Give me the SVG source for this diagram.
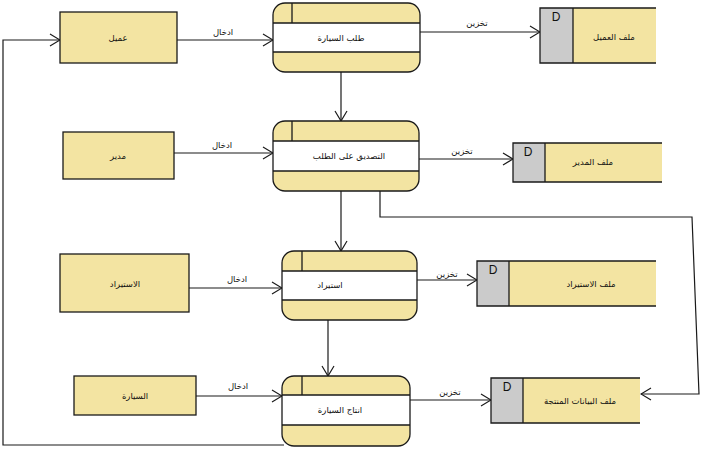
<svg xmlns="http://www.w3.org/2000/svg" width="703" height="449" viewBox="0 0 703 449">
<defs>
<marker id="arr" markerUnits="userSpaceOnUse" markerWidth="12" markerHeight="14" refX="11" refY="7" orient="auto">
<path d="M1,1 L11,7 L1,13" fill="none" stroke="#1a1a1a" stroke-width="1.2"/>
</marker>
<style>
.ent{fill:#f3e4a2;stroke:#1a1a1a;stroke-width:1.3}
.pfill{fill:#f3e4a2;stroke:none}
.pband{fill:#ffffff;stroke:none}
.pout{fill:none;stroke:#1a1a1a;stroke-width:1.3}
.ln{stroke:#1a1a1a;stroke-width:1.3;fill:none}
.sfill{fill:#f3e4a2;stroke:none}
.sd{fill:#cbcbcb;stroke:none}
.t{font-family:"DejaVu Sans",sans-serif;font-size:8.5px;fill:#111;text-anchor:middle}
.d{font-family:"Liberation Sans",Arial,sans-serif;font-size:12px;fill:#111;text-anchor:middle}
.c{stroke:#1a1a1a;stroke-width:1.2;fill:none;marker-end:url(#arr)}
</style>
</defs>
<rect width="703" height="449" fill="#ffffff"/>

<g id="connectors">
<path class="c" d="M177,40 L273,40"/>
<text class="t" x="223" y="35">ادخال</text>
<path class="c" d="M420,32 L540,32"/>
<text class="t" x="477" y="26">تخزين</text>
<path class="c" d="M341,72 L341,121"/>
<path class="c" d="M174,153 L273,153"/>
<text class="t" x="222" y="148">ادخال</text>
<path class="c" d="M419,159 L513,159"/>
<text class="t" x="462" y="154">تخزين</text>
<path class="c" d="M341,191 L341,251"/>
<path class="c" d="M380,191 L380,217 L692,217 L699,394 L641,394"/>
<path class="c" d="M189,288 L282,288"/>
<text class="t" x="237" y="282">ادخال</text>
<path class="c" d="M417,280 L477,280"/>
<text class="t" x="447" y="277">تخزين</text>
<path class="c" d="M328,320 L328,376"/>
<path class="c" d="M196,396 L282,396"/>
<text class="t" x="238" y="389">ادخال</text>
<path class="c" d="M410,400 L491,400"/>
<text class="t" x="450" y="395">تخزين</text>
<path class="c" d="M284,445 L3,445 L3,40 L60,40"/>
</g>

<g id="entity-customer">
<rect class="ent" x="60" y="12" width="117" height="51"/>
<text class="t" x="118" y="41">عميل</text>
</g>
<g id="entity-manager">
<rect class="ent" x="63" y="132" width="111" height="47"/>
<text class="t" x="118" y="159">مدير</text>
</g>
<g id="entity-import">
<rect class="ent" x="60" y="254" width="129" height="58"/>
<text class="t" x="125" y="287">الاستيراد</text>
</g>
<g id="entity-car">
<rect class="ent" x="74" y="376" width="122" height="39"/>
<text class="t" x="135" y="399">السيارة</text>
</g>

<g id="process-car-request">
<rect class="pfill" x="273" y="3" width="147" height="69" rx="12"/>
<rect class="pband" x="273" y="23" width="147" height="29"/>
<path class="ln" d="M273,23 H420 M273,52 H420 M292,3 V23"/>
<rect class="pout" x="273" y="3" width="147" height="69" rx="12"/>
<text class="t" x="341" y="41">طلب السيارة</text>
</g>
<g id="process-approve">
<rect class="pfill" x="273" y="121" width="146" height="70" rx="12"/>
<rect class="pband" x="273" y="141" width="146" height="30"/>
<path class="ln" d="M273,141 H419 M273,171 H419 M292,121 V141"/>
<rect class="pout" x="273" y="121" width="146" height="70" rx="12"/>
<text class="t" x="349" y="159">التصديق على الطلب</text>
</g>
<g id="process-import">
<rect class="pfill" x="282" y="251" width="135" height="69" rx="12"/>
<rect class="pband" x="282" y="271" width="135" height="29"/>
<path class="ln" d="M282,271 H417 M282,300 H417 M302,251 V271"/>
<rect class="pout" x="282" y="251" width="135" height="69" rx="12"/>
<text class="t" x="330" y="288">استيراد</text>
</g>
<g id="process-production">
<rect class="pfill" x="282" y="376" width="128" height="70" rx="12"/>
<rect class="pband" x="282" y="395" width="128" height="30"/>
<path class="ln" d="M282,395 H410 M282,425 H410 M302,376 V395"/>
<rect class="pout" x="282" y="376" width="128" height="70" rx="12"/>
<text class="t" x="340" y="413">انتاج السيارة</text>
</g>

<g id="store-customer">
<rect class="sfill" x="540" y="8" width="116" height="55"/>
<rect class="sd" x="540" y="8" width="33" height="55"/>
<path class="ln" d="M656,8 H540 V63 H656 M573,8 V63"/>
<text class="d" x="556" y="21">D</text>
<text class="t" x="614" y="40">ملف العميل</text>
</g>
<g id="store-manager">
<rect class="sfill" x="513" y="143" width="149" height="39"/>
<rect class="sd" x="513" y="143" width="32" height="39"/>
<path class="ln" d="M662,143 H513 V182 H662 M545,143 V182"/>
<text class="d" x="528" y="156">D</text>
<text class="t" x="593" y="165">ملف المدير</text>
</g>
<g id="store-import">
<rect class="sfill" x="477" y="261" width="179" height="45"/>
<rect class="sd" x="477" y="261" width="32" height="45"/>
<path class="ln" d="M656,261 H477 V306 H656 M509,261 V306"/>
<text class="d" x="493" y="274">D</text>
<text class="t" x="591" y="287">ملف الاستيراد</text>
</g>
<g id="store-products">
<rect class="sfill" x="491" y="378" width="149" height="45"/>
<rect class="sd" x="491" y="378" width="32" height="45"/>
<path class="ln" d="M640,378 H491 V423 H640 M523,378 V423"/>
<text class="d" x="507" y="391">D</text>
<text class="t" x="580" y="404">ملف البيانات المنتجة</text>
</g>
</svg>
